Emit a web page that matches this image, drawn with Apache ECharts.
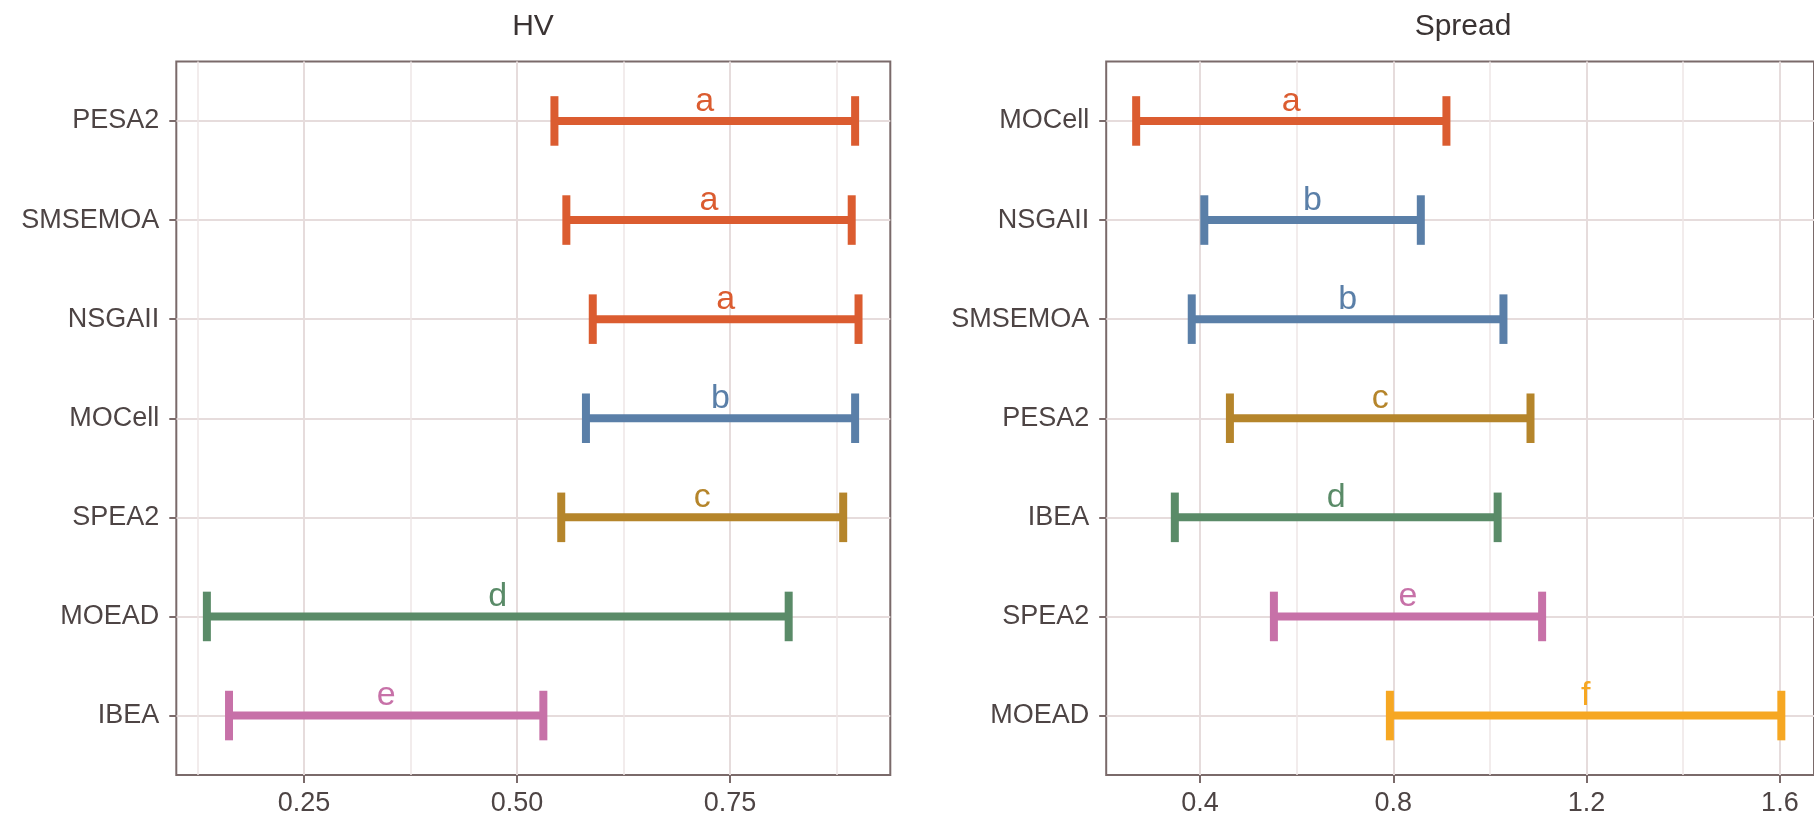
<!DOCTYPE html>
<html>
<head>
<meta charset="utf-8">
<script src="https://cdn.jsdelivr.net/npm/echarts@6/dist/echarts.min.js"></script>
<style>html,body{margin:0;padding:0;background:#fff}#c{width:1814px;height:817px}</style>
</head>
<body>
<div id="c"></div>
<script>
// ---- data ----
var hvCategories = ['PESA2', 'SMSEMOA', 'NSGAII', 'MOCell', 'SPEA2', 'MOEAD', 'IBEA'];
var hvLow  = [0.544, 0.558, 0.589, 0.581, 0.552, 0.136, 0.162];
var hvHigh = [0.897, 0.893, 0.901, 0.897, 0.883, 0.819, 0.531];
var hvGroups = ['a', 'a', 'a', 'b', 'c', 'd', 'e'];
var hvTicks = [0.25, 0.50, 0.75];
var hvMinorTicks = [0.125, 0.375, 0.625, 0.875];

var spreadCategories = ['MOCell', 'NSGAII', 'SMSEMOA', 'PESA2', 'IBEA', 'SPEA2', 'MOEAD'];
var spreadLow  = [0.268, 0.409, 0.383, 0.462, 0.348, 0.553, 0.793];
var spreadHigh = [0.910, 0.857, 1.028, 1.084, 1.016, 1.108, 1.603];
var spreadGroups = ['a', 'b', 'b', 'c', 'd', 'e', 'f'];
var spreadTicks = [0.4, 0.8, 1.2, 1.6];
var spreadMinorTicks = [0.2, 0.6, 1.0, 1.4];

var groupColors = {a: '#db5c30', b: '#5a7fa8', c: '#b5852b', d: '#5a8b68', e: '#c771a8', f: '#f6a722'};

// ---- styling ----
var FONT = 'Liberation Sans, Arial, Helvetica, sans-serif';
var TEXT = '#4d4444';
var BORDER = '#7a6a6a';
var GRID_MAJOR = '#e6dcdc';
var GRID_MINOR = '#eee6e6';

var chart = echarts.init(document.getElementById('c'), null, {renderer: 'canvas'});

function catIdx(cats) { return cats.map(function (c, i) { return i; }); }

function makeGrid(left) {
  return {left: left, top: 61.5, width: 714, height: 713.5, show: true,
          borderColor: BORDER, borderWidth: 2, backgroundColor: '#fff', containLabel: false};
}
function makeX(gi, min, max, ticks) {
  return {type: 'value', gridIndex: gi, min: min, max: max, position: 'bottom',
    axisLine: {show: false, onZero: false},
    axisTick: {show: true, length: 8, customValues: ticks, lineStyle: {color: BORDER, width: 2}},
    axisLabel: {show: true, customValues: ticks, margin: 15, color: TEXT, fontSize: 27, fontFamily: FONT,
      formatter: function (v) { return gi === 0 ? v.toFixed(2) : v.toFixed(1); }},
    splitLine: {show: true, lineStyle: {color: GRID_MAJOR, width: 2}}};
}
function makeXMinor(gi, min, max, ticks) {
  return {type: 'value', gridIndex: gi, min: min, max: max, position: 'bottom',
    axisLine: {show: false, onZero: false},
    axisTick: {show: false, customValues: ticks},
    axisLabel: {show: false, customValues: ticks},
    splitLine: {show: true, lineStyle: {color: GRID_MINOR, width: 1.5}}};
}
function makeY(gi, cats) {
  var idx = catIdx(cats);
  return {type: 'value', gridIndex: gi, inverse: true, min: -0.6, max: cats.length - 0.4,
    axisLine: {show: false, onZero: false},
    axisTick: {show: true, length: 7, customValues: idx, lineStyle: {color: BORDER, width: 2}},
    axisLabel: {show: true, customValues: idx, margin: 17, color: TEXT, fontSize: 27, fontFamily: FONT,
      formatter: function (v) { return cats[Math.round(v)]; }},
    splitLine: {show: true, lineStyle: {color: GRID_MAJOR, width: 2}}};
}

function errSeries(gi, xi, low, high, groups) {
  return {
    type: 'custom', xAxisIndex: xi, yAxisIndex: gi,
    data: low.map(function (l, i) { return [l, high[i], i]; }),
    renderItem: function (params, api) {
      var l = api.value(0), h = api.value(1), i = api.value(2);
      var g = groups[i];
      var col = groupColors[g];
      var p1 = api.coord([l, i]);
      var p2 = api.coord([h, i]);
      var unit = api.size([0, 1])[1];
      var capH = unit * 0.25;
      var lw = 8;
      return {type: 'group', children: [
        {type: 'line', shape: {x1: p1[0], y1: p1[1], x2: p2[0], y2: p2[1]},
         style: {stroke: col, lineWidth: lw, lineCap: 'butt'}},
        {type: 'line', shape: {x1: p1[0], y1: p1[1] - capH, x2: p1[0], y2: p1[1] + capH},
         style: {stroke: col, lineWidth: lw, lineCap: 'butt'}},
        {type: 'line', shape: {x1: p2[0], y1: p2[1] - capH, x2: p2[0], y2: p2[1] + capH},
         style: {stroke: col, lineWidth: lw, lineCap: 'butt'}},
        {type: 'text', x: (p1[0] + p2[0]) / 2, y: p1[1] - unit * 0.2,
         style: {text: g, fill: col, font: '34px ' + FONT, align: 'center', verticalAlign: 'middle'}}
      ]};
    },
    silent: true, animation: false, clip: false
  };
}

var hvMin = 0.1001, hvMax = 0.9383;
var spMin = 0.206, spMax = 1.6706;

var option = {
  backgroundColor: '#fff',
  animation: false,
  graphic: [
    {type: 'text', x: 533, y: 27, style: {text: 'HV', font: '30px ' + FONT, fill: '#3a3333', align: 'center', verticalAlign: 'middle'}},
    {type: 'text', x: 1463, y: 27, style: {text: 'Spread', font: '30px ' + FONT, fill: '#3a3333', align: 'center', verticalAlign: 'middle'}}
  ],
  grid: [makeGrid(176.3), makeGrid(1106.2)],
  xAxis: [
    makeX(0, hvMin, hvMax, hvTicks),
    makeX(1, spMin, spMax, spreadTicks),
    makeXMinor(0, hvMin, hvMax, hvMinorTicks),
    makeXMinor(1, spMin, spMax, spreadMinorTicks)
  ],
  yAxis: [makeY(0, hvCategories), makeY(1, spreadCategories)],
  series: [
    errSeries(0, 0, hvLow, hvHigh, hvGroups),
    errSeries(1, 1, spreadLow, spreadHigh, spreadGroups)
  ]
};
chart.setOption(option);
</script>
</body>
</html>
